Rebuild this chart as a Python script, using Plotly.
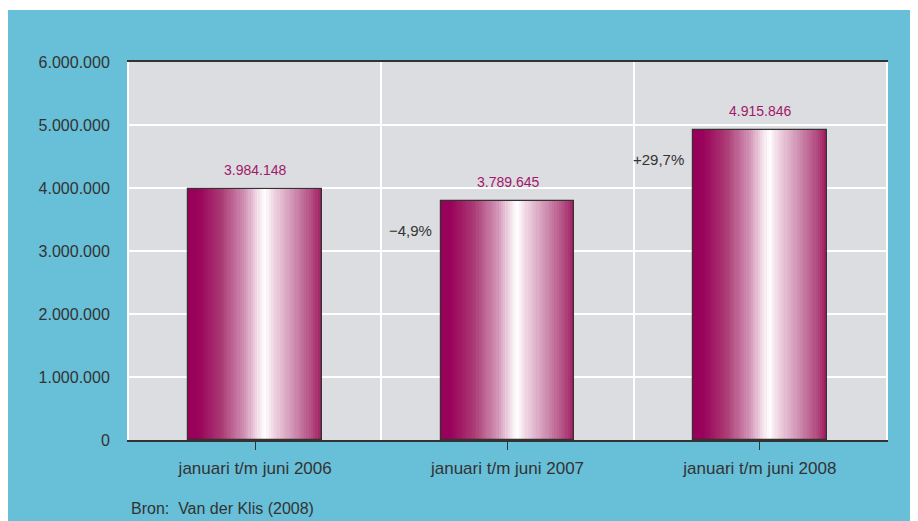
import plotly.graph_objects as go
from plotly.colors import sample_colorscale

# ---- data ----
categories = ["januari t/m juni 2006", "januari t/m juni 2007", "januari t/m juni 2008"]
values = [3984148, 3789645, 4915846]
y_ticks = [0, 1000000, 2000000, 3000000, 4000000, 5000000, 6000000]
y_tick_labels = ["0", "1.000.000", "2.000.000", "3.000.000", "4.000.000", "5.000.000", "6.000.000"]
source_text = "Bron:  Van der Klis (2008)"

# ---- style ----
BLUE = "#67bfd8"
PLOT_BG = "#dcdde0"
MAGENTA_TEXT = "#a0186a"
DARK = "#333333"
BAR_W = 0.53
N_SLICES = 60
gradient = [
    [0.00, "#98005a"],
    [0.08, "#9a035b"],
    [0.25, "#ab3b75"],
    [0.42, "#d191b4"],
    [0.52, "#f3dfe9"],
    [0.57, "#ffffff"],
    [0.64, "#efd4e2"],
    [0.80, "#cc8aad"],
    [0.93, "#b1487e"],
    [1.00, "#a0185f"],
]

fig = go.Figure()

# invisible trace for the boundary grid axis
fig.add_trace(go.Scatter(x=categories, y=values, xaxis="x2", mode="markers",
                         marker=dict(opacity=0), hoverinfo="skip", showlegend=False))

# gradient bars built from thin slices
slice_w = BAR_W / N_SLICES
cols = sample_colorscale(gradient, [(i + 0.5) / N_SLICES for i in range(N_SLICES)])
for i in range(N_SLICES):
    w = slice_w * (1.6 if i < N_SLICES - 1 else 1.0)
    fig.add_trace(go.Bar(
        x=categories, y=values, width=[w] * len(values),
        offset=-BAR_W / 2 + i * slice_w,
        marker=dict(color=cols[i], line=dict(width=0)),
        hoverinfo="skip", showlegend=False,
    ))

# outline
fig.add_trace(go.Bar(
    x=categories, y=values, width=[BAR_W] * len(values), offset=-BAR_W / 2,
    marker=dict(color="rgba(0,0,0,0)", line=dict(color=DARK, width=1.2)),
    hoverinfo="skip", showlegend=False,
))

annotations = []
for c, v in zip(categories, values):
    annotations.append(dict(
        x=c, y=v, xref="x", yref="y", text=f"{v:,}".replace(",", "."),
        showarrow=False, yanchor="bottom", yshift=9,
        font=dict(family="Liberation Sans, Arial", size=14, color=MAGENTA_TEXT),
    ))
for k in range(1, len(values)):
    pct = (values[k] / values[k - 1] - 1) * 100
    txt = ("+" if pct >= 0 else "\u2212") + f"{abs(pct):.1f}".replace(".", ",") + "%"
    annotations.append(dict(
        x=categories[k], y=values[k], xref="x", yref="y", text=txt,
        showarrow=False, xanchor="right", yanchor="middle",
        xshift=-(BAR_W * 252 / 2) - 7, yshift=-29,
        font=dict(family="Liberation Sans, Arial", size=15, color=DARK),
    ))
annotations.append(dict(
    x=0, y=-0.18, xref="paper", yref="paper", text=source_text,
    showarrow=False, xanchor="left", yanchor="middle",
    font=dict(family="Liberation Sans Narrow, Liberation Sans, Arial", size=16, color=DARK),
))

fig.update_layout(
    width=910, height=513,
    margin=dict(l=121, r=32, t=54, b=81),
    paper_bgcolor=BLUE, plot_bgcolor=PLOT_BG,
    barmode="overlay", bargap=0, showlegend=False,
    separators=",.",
    annotations=annotations,
    shapes=[
        dict(type="rect", xref="paper", yref="paper", x0=-0.3, x1=1.1,
             y0=(432 - 2) / 378, y1=1.3, fillcolor="white", line=dict(width=0), layer="above"),
    ],
    xaxis=dict(
        type="category", categoryorder="array", categoryarray=categories,
        range=[-0.5, 2.5], showgrid=False,
        showline=True, linecolor=DARK, linewidth=2, mirror=True,
        ticks="outside", ticklen=8, tickcolor=DARK, tickwidth=1,
        tickfont=dict(family="Liberation Sans Narrow, Liberation Sans, Arial", size=17, color=DARK),
        ticklabelstandoff=4,
    ),
    xaxis2=dict(
        type="category", categoryorder="array", categoryarray=categories,
        range=[-0.5, 2.5], overlaying="x", tickson="boundaries",
        showgrid=True, gridcolor="white", gridwidth=2,
        showticklabels=False, ticks="", showline=False, zeroline=False,
    ),
    yaxis=dict(
        range=[0, 6000000], tickvals=y_ticks, ticktext=y_tick_labels,
        showgrid=True, gridcolor="white", gridwidth=2, zeroline=False,
        showline=True, linecolor="white", linewidth=2, mirror=True,
        ticks="", ticklabelstandoff=14,
        tickfont=dict(family="Liberation Sans, Arial", size=16, color=DARK),
    ),
)

fig.write_html("out.html")
